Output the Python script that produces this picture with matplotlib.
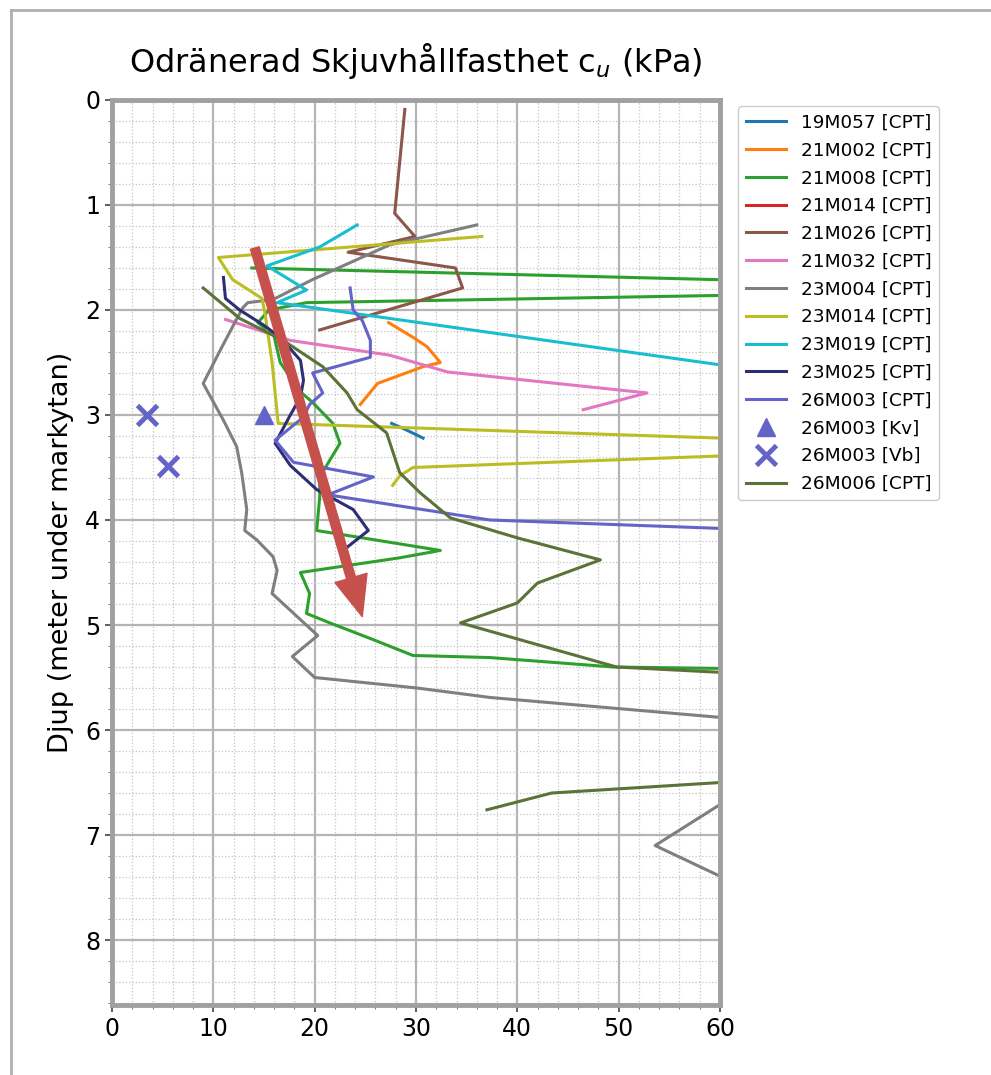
import matplotlib
matplotlib.use("Agg")
import matplotlib.pyplot as plt
from matplotlib.lines import Line2D
from matplotlib.ticker import MultipleLocator

# Data (cu in kPa, depth in m)
names = ["19M057 [CPT]", "21M002 [CPT]", "21M008 [CPT]", "21M014 [CPT]", "21M026 [CPT]",
         "21M032 [CPT]", "23M004 [CPT]", "23M014 [CPT]", "23M019 [CPT]", "23M025 [CPT]",
         "26M003 [CPT]"]
colors = ["tab:blue", "tab:orange", "tab:green", "tab:red", "tab:brown",
          "tab:pink", "tab:gray", "tab:olive", "tab:cyan", "#2e2e78", "#6464c8"]

cu_19M057 = [27.6, 29.0, 30.7]
z_19M057 = [3.08, 3.14, 3.22]

cu_21M002 = [27.3, 29.7, 31.1, 32.4, 30.7, 26.2, 24.5]
z_21M002 = [2.12, 2.26, 2.35, 2.50, 2.54, 2.70, 2.90]

cu_21M008 = [13.8, 96.6, 19.2, 15.5, 14.4, 16.0, 16.6, 18.6, 19.8, 21.8, 22.5, 20.5, 20.5,
             20.2, 32.4, 28.4, 18.6, 19.5, 19.2, 21.5, 25.8, 29.7, 37.3, 49.5, 65.0]
z_21M008 = [1.60, 1.80, 1.93, 2.00, 2.12, 2.25, 2.50, 2.78, 2.88, 3.08, 3.27, 3.59, 3.78,
            4.10, 4.29, 4.36, 4.50, 4.70, 4.89, 4.98, 5.14, 5.29, 5.31, 5.40, 5.42]

cu_21M014 = []
z_21M014 = []

cu_21M026 = [28.9, 27.9, 29.9, 23.3, 33.9, 34.6, 20.5]
z_21M026 = [0.09, 1.08, 1.30, 1.45, 1.60, 1.79, 2.19]

cu_21M032 = [11.2, 17.6, 27.4, 33.1, 52.8, 46.5]
z_21M032 = [2.09, 2.29, 2.43, 2.59, 2.79, 2.95]

cu_23M004 = [36.0, 27.4, 19.8, 15.9, 13.4, 12.9, 11.9, 10.7, 9.0, 11.0, 12.3, 12.8, 13.3,
             13.1, 14.3, 15.9, 16.3, 15.8, 20.3, 17.8, 20.0, 30.1, 37.3, 72.0, 53.6, 65.0]
z_23M004 = [1.19, 1.38, 1.71, 1.90, 1.93, 1.98, 2.16, 2.38, 2.70, 3.05, 3.30, 3.55, 3.90,
            4.10, 4.19, 4.35, 4.48, 4.70, 5.10, 5.30, 5.50, 5.60, 5.69, 5.98, 7.10, 7.62]

cu_23M014 = [36.5, 10.5, 11.9, 14.8, 15.1, 15.8, 16.4, 84.9, 29.7, 28.4, 27.7]
z_23M014 = [1.30, 1.50, 1.71, 1.89, 2.03, 2.50, 3.08, 3.30, 3.50, 3.58, 3.67]

cu_23M019 = [24.2, 20.5, 15.3, 19.2, 16.3, 65.0]
z_23M019 = [1.19, 1.40, 1.58, 1.81, 1.93, 2.59]

cu_23M025 = [11.0, 11.2, 12.6, 14.9, 16.6, 18.6, 18.9, 18.6, 17.6, 16.1, 17.6, 20.2, 23.8,
             25.3, 23.2, 22.8]
z_23M025 = [1.69, 1.89, 2.00, 2.14, 2.26, 2.48, 2.67, 2.83, 3.00, 3.27, 3.48, 3.71, 3.90,
            4.10, 4.26, 4.38]

cu_26M003 = [23.5, 23.8, 24.7, 25.5, 25.5, 19.8, 20.8, 19.5, 18.9, 16.1, 17.9, 25.8, 21.3,
             37.3, 60.0, 65.0]
z_26M003 = [1.79, 2.00, 2.10, 2.29, 2.45, 2.60, 2.79, 2.90, 3.02, 3.24, 3.45, 3.59, 3.76,
            4.00, 4.08, 4.10]

cu_kv = [15.0]
z_kv = [3.0]
cu_vb = [3.5, 5.5]
z_vb = [3.0, 3.49]

cu_26M006 = [9.0, 12.6, 16.9, 20.8, 23.2, 24.2, 27.1, 28.4, 30.4, 33.4, 40.0, 48.2, 42.0,
             40.0, 34.4, 49.8, 80.0, 80.0, 43.4, 37.0]
z_26M006 = [1.79, 2.08, 2.29, 2.54, 2.79, 2.95, 3.17, 3.55, 3.74, 3.98, 4.17, 4.38, 4.60,
            4.79, 4.98, 5.40, 5.55, 6.38, 6.60, 6.76]

cpt_cu = [cu_19M057, cu_21M002, cu_21M008, cu_21M014, cu_21M026, cu_21M032, cu_23M004,
          cu_23M014, cu_23M019, cu_23M025, cu_26M003]
cpt_z = [z_19M057, z_21M002, z_21M008, z_21M014, z_21M026, z_21M032, z_23M004,
         z_23M014, z_23M019, z_23M025, z_26M003]

arrow_from = (14.1, 1.41)
arrow_to = (24.7, 4.92)

# Figure
fig = plt.figure(figsize=(9.91, 10.75), dpi=100)
ax = fig.add_axes([0.113, 0.065, 0.6135, 0.842])

for cu, z, name, c in zip(cpt_cu, cpt_z, names, colors):
    ax.plot(cu, z, color=c, lw=2.2, label=name)

ax.plot(cu_kv, z_kv, ls="none", marker="^", ms=13, color="#6464c8", label="26M003 [Kv]")
ax.plot(cu_vb, z_vb, ls="none", marker="x", ms=14, mew=3.5, color="#6464c8",
        label="26M003 [Vb]")
ax.plot(cu_26M006, z_26M006, color="#5b7238", lw=2.2, label="26M006 [CPT]")

ax.annotate("", xy=arrow_to, xytext=arrow_from,
            arrowprops=dict(width=6.5, headwidth=24, headlength=29, shrink=0,
                            facecolor="#c5504c", edgecolor="#c5504c"))

ax.set_xlim(0, 60)
ax.set_ylim(8.62, 0)
ax.xaxis.set_major_locator(MultipleLocator(10))
ax.xaxis.set_minor_locator(MultipleLocator(2))
ax.yaxis.set_major_locator(MultipleLocator(1))
ax.yaxis.set_minor_locator(MultipleLocator(0.2))
ax.grid(which="major", color="#b4b4b4", lw=1.6)
ax.grid(which="minor", color="#c4c4c4", lw=0.9, ls=":")
ax.tick_params(which="major", labelsize=17, length=5, width=1.2, color="#444444")
ax.tick_params(which="minor", length=3, color="#666666")
for s in ax.spines.values():
    s.set_color("#a0a0a0")
    s.set_linewidth(3.5)

ax.set_title("Odränerad Skjuvhållfasthet c$_u$ (kPa)", fontsize=23, pad=20)
ax.set_ylabel("Djup (meter under markytan)", fontsize=19.5, labelpad=8)

ax.legend(loc="upper left", bbox_to_anchor=(1.03, 0.993), borderaxespad=0,
          fontsize=13.3, handlelength=2.2, labelspacing=0.53, framealpha=1)

# screenshot frame
fig.add_artist(Line2D([0.011, 0.011], [0.0, 0.991], color="#b0b0b0", lw=2))
fig.add_artist(Line2D([0.011, 1.0], [0.991, 0.991], color="#b0b0b0", lw=2))

fig.savefig("out.png", dpi=100)
